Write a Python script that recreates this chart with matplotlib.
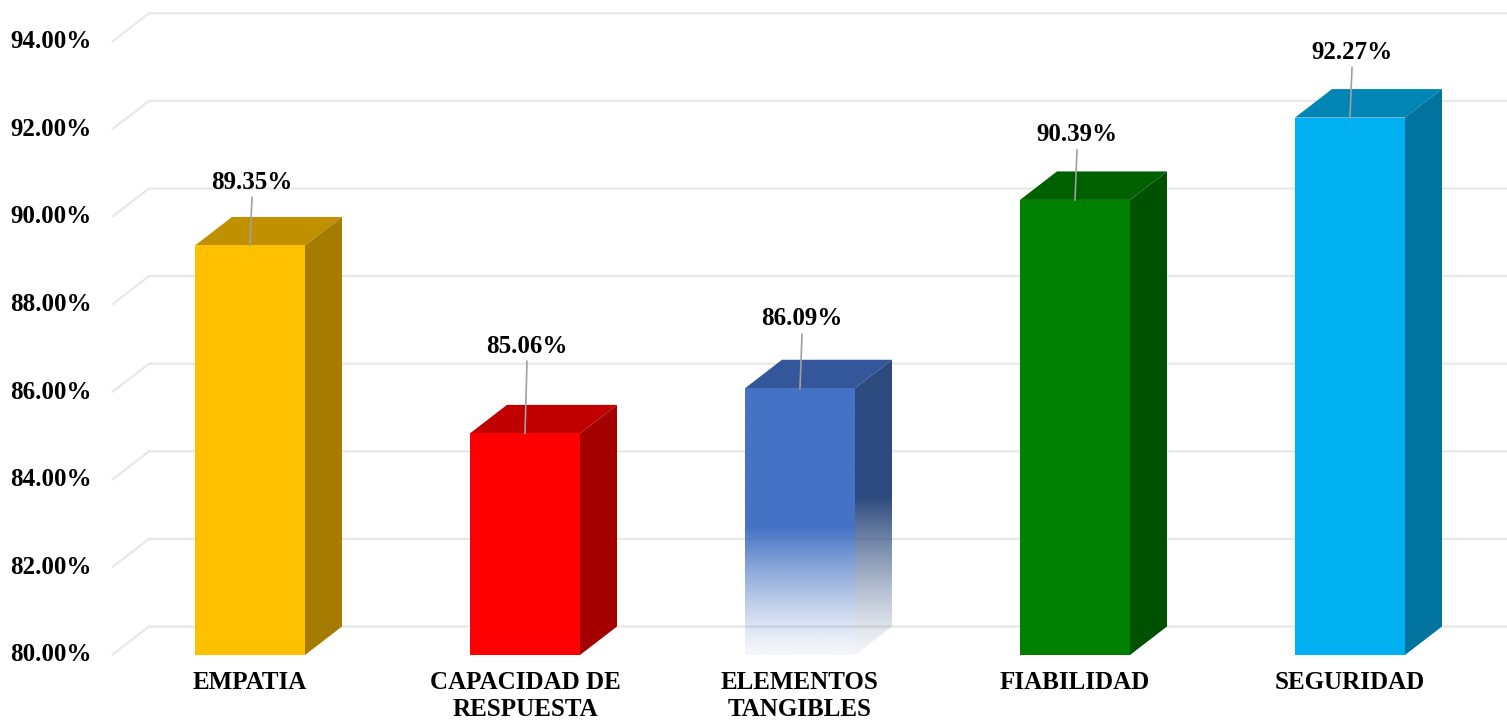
import numpy as np
import matplotlib
matplotlib.use("Agg")
import matplotlib.pyplot as plt
from matplotlib.patches import Polygon
from matplotlib.colors import to_rgb

# ---------------------------------------------------------------------------
# data
# ---------------------------------------------------------------------------
categories = ["EMPATIA", "CAPACIDAD DE\nRESPUESTA", "ELEMENTOS\nTANGIBLES",
              "FIABILIDAD", "SEGURIDAD"]
values = [89.35, 85.06, 86.09, 90.39, 92.27]
yticks = [80, 82, 84, 86, 88, 90, 92, 94]

# colours: front, top, side
front_cols = ["#FFC000", "#FF0000", "#4472C4", "#008000", "#00B0F0"]
top_cols = ["#C09000", "#C00000", "#33579A", "#006000", "#0085B5"]
side_cols = ["#A67C00", "#A50000", "#2C4A7E", "#005200", "#00739E"]
fade = [False, False, True, False, False]
label_gap = [48, 72, 54, 50, 50]   # px between bar top and label centre

plt.rcParams["font.family"] = ["Liberation Serif", "DejaVu Serif"]
plt.rcParams["font.weight"] = "bold"

W, H, DPI = 1507, 721, 100
fig = plt.figure(figsize=(W / DPI, H / DPI), dpi=DPI)
ax = fig.add_axes([0, 0, 1, 1])

# pixel layout -> data limits
PX_PER_PCT = 43.8
PX_PER_CAT = 275.0
y_base_px, x0_px = 655, 250
ax.set_xlim((0 - x0_px) / PX_PER_CAT, (W - x0_px) / PX_PER_CAT)
ax.set_ylim(80 - (H - y_base_px) / PX_PER_PCT, 80 + y_base_px / PX_PER_PCT)
ax.axis("off")

bw = 110 / PX_PER_CAT
dx = 37 / PX_PER_CAT
dy = 28.5 / PX_PER_PCT
base = 80.0
x_wall = (112 - x0_px) / PX_PER_CAT
x_right = ax.get_xlim()[1]
FS = 18

# gridlines (floor diagonal + back wall)
for t in yticks:
    ax.plot([x_wall, x_wall + dx, x_right], [t, t + dy, t + dy],
            color="#e8e8e8", lw=1.6, zorder=1, solid_capstyle="butt")
    ax.text(x_wall - 20 / PX_PER_CAT, t, f"{t:.2f}%", ha="right", va="center",
            fontsize=FS, fontweight="bold", color="black")


def gradient_fill(poly, color, y_lo, y_hi, y_solid):
    rgb = np.array(to_rgb(color))
    n = 200
    ys = np.linspace(y_lo, y_hi, n)
    a = np.clip((ys - base) / (y_solid - base), 0, 1)
    a = 0.06 + 0.94 * a ** 1.3
    img = np.ones((n, 1, 4))
    img[:, 0, :3] = rgb
    img[:, 0, 3] = a
    xs = poly.get_xy()[:, 0]
    im = ax.imshow(img, extent=(xs.min(), xs.max(), y_lo, y_hi), origin="lower",
                   aspect="auto", zorder=poly.get_zorder(), interpolation="bilinear")
    im.set_clip_path(poly)


for i, (v, fc, tc, sc) in enumerate(zip(values, front_cols, top_cols, side_cols)):
    xa, xb = i - bw / 2, i + bw / 2
    side = Polygon([(xb, base), (xb + dx, base + dy), (xb + dx, v + dy), (xb, v)],
                   closed=True, zorder=3, lw=0)
    top = Polygon([(xa, v), (xb, v), (xb + dx, v + dy), (xa + dx, v + dy)],
                  closed=True, zorder=3, lw=0, facecolor=tc)
    front = Polygon([(xa, base), (xb, base), (xb, v), (xa, v)],
                    closed=True, zorder=4, lw=0)
    ax.add_patch(top)
    if fade[i]:
        side.set_facecolor("none")
        front.set_facecolor("none")
        ax.add_patch(side)
        ax.add_patch(front)
        gradient_fill(side, sc, base, v + dy, 83.6)
        gradient_fill(front, fc, base, v, 82.9)
    else:
        side.set_facecolor(sc)
        front.set_facecolor(fc)
        ax.add_patch(side)
        ax.add_patch(front)

    # value label with leader line
    gap = label_gap[i] / PX_PER_PCT
    ax.annotate(f"{v:.2f}%", xy=(i, v), xytext=(i + 2 / PX_PER_CAT, v + gap + 0.35),
                ha="center", va="center", fontsize=FS, fontweight="bold",
                zorder=6)
    ax.plot([i + 2 / PX_PER_CAT, i], [v + gap, v], color="#a0a0a0", lw=1.2, zorder=5)

    ax.text(i, base - 16 / PX_PER_PCT, categories[i], ha="center", va="top",
            fontsize=FS, fontweight="bold", linespacing=1.22)

fig.savefig("out.png", dpi=DPI)
